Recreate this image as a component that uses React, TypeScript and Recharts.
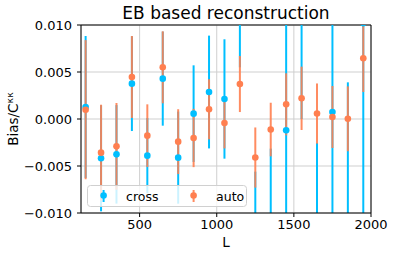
import {
  ScatterChart,
  Scatter,
  XAxis,
  YAxis,
  CartesianGrid,
  ErrorBar,
  ReferenceLine,
  Legend,
} from 'recharts'

// multipole bin centres
const binsL = [150, 250, 350, 450, 550, 650, 750, 850, 950, 1050, 1150, 1250, 1350, 1450, 1550, 1650, 1750, 1850, 1950]

// cross bias and 1-sigma errors (several points fall outside the plotted range)
const crossBias = [
  0.00128, -0.00418, -0.00376, 0.00376, -0.0039, 0.00429, -0.00411, 0.00057, 0.00287, 0.00213,
  0.0125, -0.0125, -0.0115, -0.00121, 0.012, -0.013, 0.00074, -0.012, 0.0102,
]
const crossErr = [
  0.00755, 0.00564, 0.00524, 0.00504, 0.004, 0.005, 0.0049, 0.00514, 0.006, 0.00635,
  0.007, 0.0069, 0.00835, 0.0115, 0.012, 0.01045, 0.012, 0.0159, 0.022,
]

// auto bias and errors
const autoBias = [
  0.00099, -0.00358, -0.00291, 0.00447, -0.00177, 0.0055, -0.00241, -0.00202, 0.00103, -0.00043,
  0.00372, -0.0041, -0.00112, 0.00156, 0.0022, 0.00058, 0.00021, 0.00002, 0.00647,
]
const autoErr = [
  0.0074, 0.0051, 0.00461, 0.00436, 0.00333, 0.00383, 0.00345, 0.0031, 0.0032, 0.0027,
  0.00298, 0.0032, 0.00285, 0.0033, 0.00337, 0.0032, 0.0033, 0.00345, 0.0036,
]

const xTicks = [500, 1000, 1500, 2000]
const yTicks = [-0.01, -0.005, 0, 0.005, 0.01]
const Y_MIN = -0.01
const Y_MAX = 0.01
const seriesOrder = ['cross', 'auto']

const CROSS = '#00bfff'
const AUTO = '#ff7f50'
const FONT = '"DejaVu Sans", sans-serif'

const crossData = binsL.map((L, i) => ({ L, bias: crossBias[i], err: crossErr[i] }))
const autoData = binsL.map((L, i) => ({ L, bias: autoBias[i], err: autoErr[i] }))

// error bars are not clipped by recharts, so trim them to the visible y range
const clippedErr = (d: any) => [Math.min(d.err, d.bias - Y_MIN), Math.min(d.err, Y_MAX - d.bias)]

const fmtY = (v: number) => {
  const s = Math.abs(v).toFixed(3)
  return v < -1e-9 ? '\u2212' + s : s
}

const dot = (color: string) => (p: any) => <circle cx={p.cx} cy={p.cy} r={3.3} fill={color} />

function YLabel({ viewBox }: any) {
  const cy = viewBox.y + viewBox.height / 2
  return (
    <text
      x={18}
      y={cy}
      transform={`rotate(-90, 18, ${cy})`}
      textAnchor="middle"
      fontSize={13.5}
      fontFamily={FONT}
      fill="#000"
    >
      Bias/C<tspan dy={-5} fontSize={9.5}>κκ</tspan>
    </text>
  )
}

function LegendBox({ payload }: any) {
  const items = [...(payload ?? [])].sort(
    (a: any, b: any) => seriesOrder.indexOf(a.value) - seriesOrder.indexOf(b.value)
  )
  return (
    <svg width={160} height={22} style={{ display: 'block' }}>
      <rect x={0.5} y={0.5} width={159} height={21} rx={3} fill="#fff" fillOpacity={0.8} stroke="#d0d0d0" />
      {items.map((it: any, i: number) => {
        const mx = 16.6 + i * 90
        return (
          <g key={it.value}>
            <line x1={mx} x2={mx} y1={5} y2={17} stroke={it.color} strokeWidth={2} strokeOpacity={i ? 0.9 : 1} />
            <circle cx={mx} cy={10.5} r={3.3} fill={it.color} />
            <text x={mx + 22.5} y={15.5} fontSize={12.5} fontFamily={FONT} fill="#000">
              {it.value}
            </text>
          </g>
        )
      })}
    </svg>
  )
}

export default function App() {
  return (
    <div style={{ position: 'fixed', left: 0, top: 0, width: 395, height: 256, background: '#fff', fontFamily: FONT }}>
      <ScatterChart width={395} height={256} margin={{ top: 25, right: 24, bottom: 0, left: 0 }}>
        <CartesianGrid stroke="#cfcfcf" strokeWidth={1} />
        <XAxis
          type="number"
          dataKey="L"
          domain={[120, 2000]}
          ticks={xTicks}
          allowDataOverflow
          height={43}
          tickSize={4}
          tickMargin={3}
          tick={{ fill: '#000', fontSize: 13, fontFamily: FONT }}
          axisLine={{ stroke: '#000' }}
          tickLine={{ stroke: '#000' }}
          label={{ value: 'L', position: 'insideBottom', offset: 9, fill: '#000', fontSize: 13.5, fontFamily: FONT }}
        />
        <YAxis
          type="number"
          dataKey="bias"
          domain={[Y_MIN, Y_MAX]}
          ticks={yTicks}
          allowDataOverflow
          width={81}
          tickSize={4}
          tickMargin={5}
          tickFormatter={fmtY}
          tick={{ fill: '#000', fontSize: 13, fontFamily: FONT }}
          axisLine={{ stroke: '#000' }}
          tickLine={{ stroke: '#000' }}
          label={<YLabel />}
        />
        <ReferenceLine
          y={Y_MAX}
          stroke="#000"
          label={{ value: 'EB based reconstruction', position: 'top', offset: 6, fill: '#000', fontSize: 17, fontFamily: FONT }}
        />
        <ReferenceLine x={2000} stroke="#000" />
        <Scatter name="cross" data={crossData} fill={CROSS} shape={dot(CROSS)} isAnimationActive={false}>
          <ErrorBar dataKey={clippedErr} direction="y" width={0} stroke={CROSS} strokeWidth={2} isAnimationActive={false} />
        </Scatter>
        <Scatter name="auto" data={autoData} fill={AUTO} shape={dot(AUTO)} isAnimationActive={false}>
          <ErrorBar
            dataKey={clippedErr}
            direction="y"
            width={0}
            stroke={AUTO}
            strokeWidth={2}
            strokeOpacity={0.9}
            isAnimationActive={false}
          />
        </Scatter>
        <Legend
          layout="horizontal"
          verticalAlign="middle"
          align="center"
          content={<LegendBox />}
          wrapperStyle={{ left: 86.5, top: 184.5, width: 160, height: 22 }}
        />
      </ScatterChart>
    </div>
  )
}
